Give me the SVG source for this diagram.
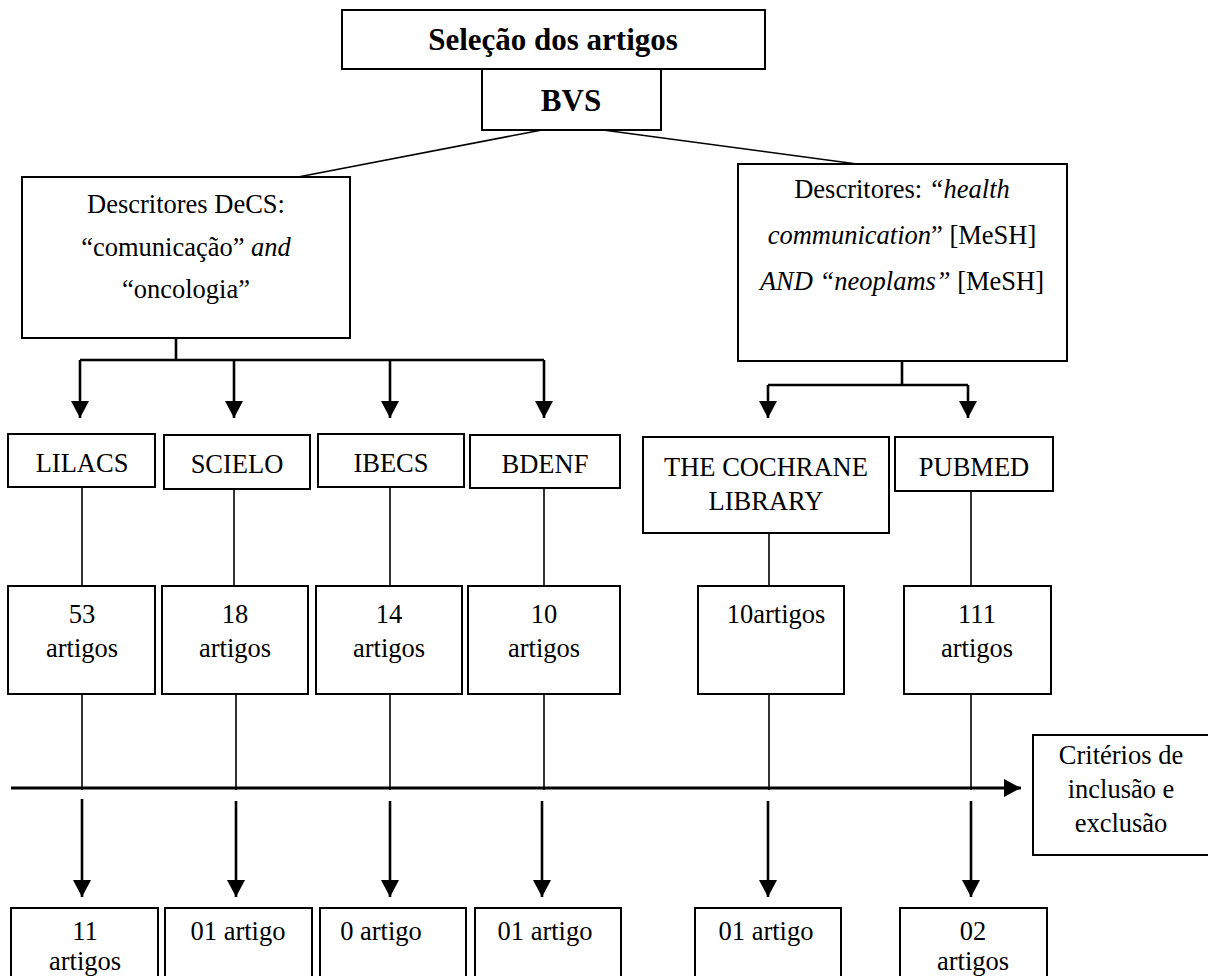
<svg xmlns="http://www.w3.org/2000/svg" width="1208" height="976" viewBox="0 0 1208 976" font-family="'Liberation Serif', 'Times New Roman', 'DejaVu Serif', serif">
<defs>
<style>
.box{fill:#fff;stroke:#000;stroke-width:2}
.t{font-family:'Liberation Serif','Times New Roman','DejaVu Serif',serif;font-size:26.5px;fill:#000;text-anchor:middle}
.b{font-weight:bold;font-size:31px}
.i{font-style:italic}
.ln{stroke:#000;stroke-width:1.6;fill:none}
.ar{stroke:#000;stroke-width:2.6;fill:none}
</style>
<marker id="ah" markerUnits="userSpaceOnUse" markerWidth="18" markerHeight="18" viewBox="0 0 18 18" refX="17" refY="9" orient="auto">
<path d="M0,0 L17,9 L0,18 Z" fill="#000"/>
</marker>
</defs>
<rect width="1208" height="976" fill="#fff"/>

<g id="connectors">
<line class="ln" x1="542" y1="130" x2="298" y2="177"/>
<line class="ln" x1="603" y1="130" x2="857" y2="164"/>
<path class="ar" d="M176,338 V360 M80,360 H544"/>
<line class="ar" x1="80" y1="360" x2="80" y2="418" marker-end="url(#ah)"/>
<line class="ar" x1="234" y1="360" x2="234" y2="418" marker-end="url(#ah)"/>
<line class="ar" x1="390" y1="360" x2="390" y2="418" marker-end="url(#ah)"/>
<line class="ar" x1="544" y1="360" x2="544" y2="418" marker-end="url(#ah)"/>
<path class="ar" d="M902,361 V385 M768,385 H968"/>
<line class="ar" x1="768" y1="385" x2="768" y2="418" marker-end="url(#ah)"/>
<line class="ar" x1="968" y1="385" x2="968" y2="418" marker-end="url(#ah)"/>
<path class="ln" d="M82,487 V586 M234,489 V586 M390,487 V586 M544,487 V586 M769,533 V586 M971,491 V586"/>
<path class="ln" d="M82,694 V790 M236,694 V790 M390,694 V790 M544,694 V790 M769,694 V790 M971,694 V790"/>
<line x1="11" y1="788" x2="1021" y2="788" stroke="#000" stroke-width="3" marker-end="url(#ah)"/>
<line class="ar" x1="82" y1="799" x2="82" y2="897" marker-end="url(#ah)"/>
<line class="ar" x1="236" y1="801" x2="236" y2="897" marker-end="url(#ah)"/>
<line class="ar" x1="390" y1="801" x2="390" y2="897" marker-end="url(#ah)"/>
<line class="ar" x1="542" y1="801" x2="542" y2="897" marker-end="url(#ah)"/>
<line class="ar" x1="768" y1="801" x2="768" y2="897" marker-end="url(#ah)"/>
<line class="ar" x1="971" y1="801" x2="971" y2="897" marker-end="url(#ah)"/>
</g>

<g id="title"><rect class="box" x="342" y="10" width="423" height="59"/><text class="t b" x="553" y="50">Seleção dos artigos</text></g>
<g id="bvs"><rect class="box" x="482" y="69" width="179" height="61"/><text class="t b" x="571" y="111">BVS</text></g>

<g id="decs"><rect class="box" x="22" y="177" width="328" height="161"/>
<text class="t" x="186" y="213">Descritores DeCS:</text>
<text class="t" x="186" y="256">“comunicação” <tspan class="i">and</tspan></text>
<text class="t" x="186" y="298">“oncologia”</text></g>

<g id="mesh"><rect class="box" x="738" y="164" width="329" height="197"/>
<text class="t" x="902" y="198">Descritores: <tspan class="i">“health</tspan></text>
<text class="t" x="902" y="244"><tspan class="i">communication</tspan>” [MeSH]</text>
<text class="t" x="902" y="290"><tspan class="i">AND “neoplams”</tspan> [MeSH]</text></g>

<g id="lilacs"><rect class="box" x="8" y="434" width="147" height="53"/><text class="t" x="82" y="472">LILACS</text></g>
<g id="scielo"><rect class="box" x="164" y="435" width="146" height="54"/><text class="t" x="237" y="473">SCIELO</text></g>
<g id="ibecs"><rect class="box" x="318" y="434" width="146" height="53"/><text class="t" x="391" y="472">IBECS</text></g>
<g id="bdenf"><rect class="box" x="470" y="435" width="150" height="53"/><text class="t" x="545" y="473">BDENF</text></g>
<g id="cochrane"><rect class="box" x="643" y="437" width="246" height="96"/><text class="t" x="766" y="476">THE COCHRANE</text><text class="t" x="766" y="510">LIBRARY</text></g>
<g id="pubmed"><rect class="box" x="895" y="437" width="158" height="54"/><text class="t" x="974" y="476">PUBMED</text></g>

<g id="m1"><rect class="box" x="8" y="586" width="147" height="108"/><text class="t" x="82" y="623">53</text><text class="t" x="82" y="657">artigos</text></g>
<g id="m2"><rect class="box" x="162" y="586" width="146" height="108"/><text class="t" x="235" y="623">18</text><text class="t" x="235" y="657">artigos</text></g>
<g id="m3"><rect class="box" x="316" y="586" width="146" height="108"/><text class="t" x="389" y="623">14</text><text class="t" x="389" y="657">artigos</text></g>
<g id="m4"><rect class="box" x="468" y="586" width="152" height="108"/><text class="t" x="544" y="623">10</text><text class="t" x="544" y="657">artigos</text></g>
<g id="m5"><rect class="box" x="698" y="586" width="146" height="108"/><text class="t" x="776" y="623">10artigos</text></g>
<g id="m6"><rect class="box" x="904" y="586" width="147" height="108"/><text class="t" x="977" y="623">111</text><text class="t" x="977" y="657">artigos</text></g>

<g id="criterios"><rect class="box" x="1033" y="735" width="176" height="120"/>
<text class="t" x="1121" y="764">Critérios de</text><text class="t" x="1121" y="798">inclusão e</text><text class="t" x="1121" y="832">exclusão</text></g>

<g id="r1"><rect class="box" x="11" y="908" width="147" height="80"/><text class="t" x="85" y="940">11</text><text class="t" x="85" y="970">artigos</text></g>
<g id="r2"><rect class="box" x="165" y="908" width="147" height="80"/><text class="t" x="238" y="940">01 artigo</text></g>
<g id="r3"><rect class="box" x="320" y="908" width="146" height="80"/><text class="t" x="381" y="940">0 artigo</text></g>
<g id="r4"><rect class="box" x="475" y="908" width="146" height="80"/><text class="t" x="545" y="940">01 artigo</text></g>
<g id="r5"><rect class="box" x="695" y="908" width="146" height="80"/><text class="t" x="766" y="940">01 artigo</text></g>
<g id="r6"><rect class="box" x="900" y="908" width="147" height="80"/><text class="t" x="973" y="940">02</text><text class="t" x="973" y="970">artigos</text></g>
</svg>
